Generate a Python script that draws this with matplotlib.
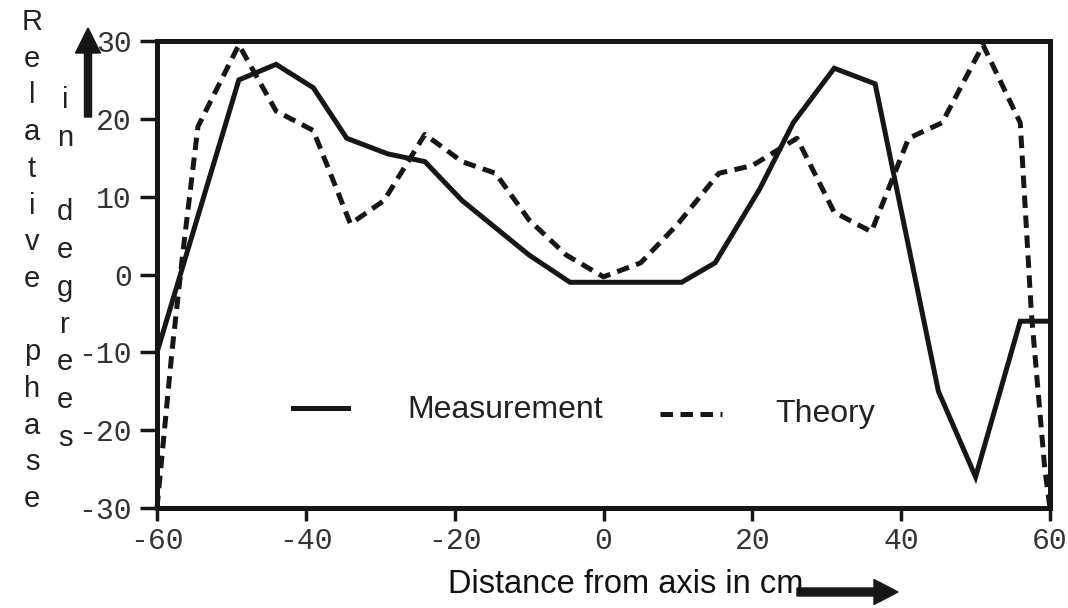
import matplotlib
matplotlib.use("Agg")
import matplotlib.pyplot as plt
from matplotlib.patches import FancyArrow
from matplotlib.transforms import IdentityTransform

plt.rcParams['axes.unicode_minus'] = False

# ---- data ----
meas_x = [-60, -49, -44, -39, -34.5, -29, -24, -19, -14.5, -10, -4.5, 10.5, 15, 21, 25.5, 31, 36.5, 45, 50, 56, 60]
meas_y = [-10, 25, 27, 24, 17.5, 15.5, 14.5, 9.5, 6, 2.5, -1, -1, 1.5, 11, 19.5, 26.5, 24.5, -15, -26, -6, -6]

theo_x = [-60, -59, -58, -56.5, -54.5, -49, -44, -39, -34, -29.5, -24, -19, -14.5, -10, -5, 0, 5, 10,
          15.5, 20, 26, 31, 36, 41, 45.5, 51, 56, 57.5, 59.3, 60]
theo_y = [-30, -20, -10, 3, 19, 29.5, 21, 18.5, 6.5, 9.5, 18, 14.5, 13, 7, 2.5, -0.3, 1.5, 6.5,
          13, 14, 17.5, 8, 5.5, 17.5, 19.5, 29.5, 19.5, -5, -25, -30]

x_ticks = [-60, -40, -20, 0, 20, 40, 60]
y_ticks = [-30, -20, -10, 0, 10, 20, 30]

ylabel_col1 = "Relative phase"
ylabel_col2 = "in degrees"

INK = '#161616'
W, H = 1068, 608

fig = plt.figure(figsize=(W / 100, H / 100), dpi=100)
ax = fig.add_axes([157 / W, 1 - 508 / H, (1050 - 157) / W, (508 - 41) / H])

ax.plot(meas_x, meas_y, color=INK, lw=3.6, solid_joinstyle='miter', clip_on=False)
ax.plot(theo_x, theo_y, color=INK, lw=3.6, linestyle=(0, (2.5, 1.5)),
        dash_capstyle='butt', clip_on=False)

ax.set_xlim(-60, 60)
ax.set_ylim(-30, 30)
ax.set_xticks(x_ticks)
ax.set_yticks(y_ticks)
ax.set_xticklabels([str(v) for v in x_ticks])
ax.set_yticklabels([str(v) for v in y_ticks])
for s in ax.spines.values():
    s.set_linewidth(3.6)
    s.set_color(INK)
ax.tick_params(axis='y', direction='out', length=12, width=2.5, pad=6, color=INK,
               labelsize=21.5, labelcolor='#333333')
ax.tick_params(axis='x', direction='out', length=9, width=2.5, pad=5, color=INK,
               labelsize=21.5, labelcolor='#333333')
for lab in ax.get_xticklabels() + ax.get_yticklabels():
    lab.set_fontfamily('Liberation Mono')

# legend (drawn in pixel coords of the figure)
T = IdentityTransform()
fig.add_artist(plt.Line2D([293, 348], [H - 408, H - 408], color=INK, lw=3.6, transform=T))
fig.add_artist(plt.Line2D([660, 722], [H - 414, H - 414], color=INK, lw=3.6,
                          linestyle=(0, (2.5, 1.5)), dash_capstyle='butt', transform=T))
fig.text(407 / W, 1 - 410 / H, "Measurement", fontsize=23, family='Liberation Sans',
         color='#222222', va='center', ha='left')
fig.text(775 / W, 1 - 414 / H, "Theory", fontsize=23, family='Liberation Sans',
         color='#222222', va='center', ha='left')

# x label
fig.text(448 / W, 15 / H, "Distance from axis in cm", fontsize=23.5, family='Liberation Sans',
         color='#111111', va='baseline', ha='left')

# y label as stacked letters
y0, step = 22, 36.7
for i, ch in enumerate(ylabel_col1):
    if ch != ' ':
        fig.text(32 / W, 1 - (y0 + i * step) / H, ch, fontsize=21, family='Liberation Sans',
                 color='#222222', ha='center', va='center')
y1 = 100
for i, ch in enumerate(ylabel_col2):
    if ch != ' ':
        fig.text(65 / W, 1 - (y1 + i * 37.5) / H, ch, fontsize=21, family='Liberation Sans',
                 color='#222222', ha='center', va='center')

# arrows
fig.add_artist(FancyArrow(88, H - 117, 0, 89, width=7, head_width=25, head_length=25,
                          length_includes_head=True, color=INK, transform=T))
fig.add_artist(FancyArrow(797, H - 592, 101, 0, width=8, head_width=25, head_length=24,
                          length_includes_head=True, color=INK, transform=T))

fig.savefig("out.png", dpi=100)
